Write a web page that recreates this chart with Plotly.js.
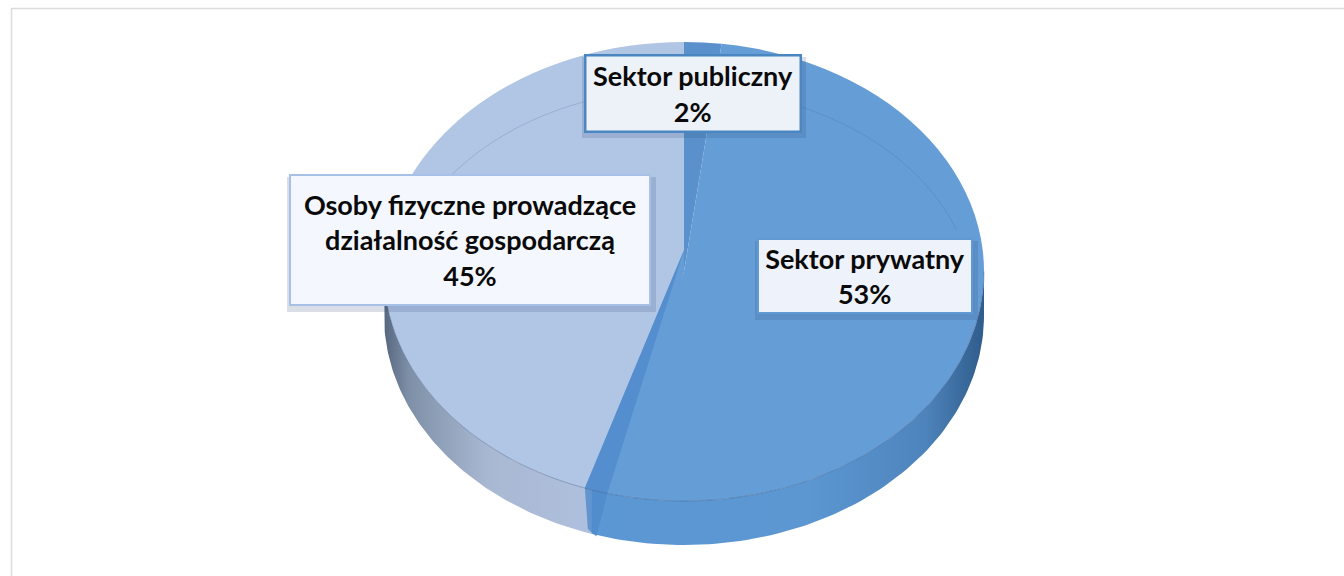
<!DOCTYPE html>
<html><head><meta charset="utf-8">
<script src="https://cdn.plot.ly/plotly-3.0.1.min.js"></script>
<style>html,body{margin:0;padding:0;background:#fff}#c{width:1344px;height:576px}</style></head>
<body><div id="c"></div>
<script>
const categories = ["Sektor publiczny", "Sektor prywatny", "Osoby fizyczne prowadzące<br>działalność gospodarczą"];
const shares = [2, 53, 45];
const faceColors = ["#5A90CB", "#659DD6", "#B1C5E4"];
const wallShades = [
  null,
  [[0, "#5B97D3"], [0.55, "#5C97D2"], [0.85, "#4E84BC"], [1, "#2F5C8B"]],
  [[0, "#55667E"], [0.12, "#7E90A8"], [0.5, "#A9B8D2"], [1, "#AEC0DE"]]
];
const labelBoxes = [
  {x0:584,x1:801,y0:54,y1:132,fill:"#EDF1F8",line:"#4A86C2",w:2.5},
  {x0:757,x1:973,y0:238,y1:314,fill:"#EEF2FA",line:"#5F9AD5",w:2},
  {x0:289,x1:651,y0:174,y1:306,fill:"#F4F7FD",line:"#A6C0E6",w:2}
];

const W=1344,H=576,cx=684,cy=271.5,rx=300,ry=229.5,depth=44,apexY=250;
const rad=d=>d*Math.PI/180;
const px=d=>cx+rx*Math.sin(rad(d)), py=d=>cy-ry*Math.cos(rad(d));
const total=shares.reduce((a,b)=>a+b,0);
let run=0; const bounds=shares.map(s=>{const a=run;run+=s/total*360;return [a,run];});
const range=(a,b,n=90)=>Array.from({length:n+1},(_,i)=>a+(b-a)*i/n);

// side wall: only the front half (90..270 degrees) is visible
const traces=[];
bounds.forEach(([a,b],i)=>{
  const s=Math.max(a,90), e=Math.min(b,270);
  if(e<=s||!wallShades[i]) return;
  const t=range(s,e);
  const xs=t.map(px).concat(t.slice().reverse().map(px));
  const ys=t.map(py).concat(t.slice().reverse().map(d=>py(d)+depth));
  traces.push({type:"scatter",mode:"lines",x:xs,y:ys,fill:"toself",line:{width:0},
    fillcolor:faceColors[i],
    fillgradient:{type:"horizontal",colorscale:wallShades[i]},hoverinfo:"skip",showlegend:false});
});
traces.push({type:"pie",labels:categories,values:shares,sort:false,direction:"clockwise",rotation:0,
  marker:{colors:faceColors,line:{width:0}},textinfo:"none",hoverinfo:"skip",showlegend:false,
  domain:{x:[(cx-rx)/W,(cx+rx)/W],y:[1-(cy+ry)/H,1-(cy-ry)/H]}});

const arcPath=(a,b,off=0,n=80)=>range(a,b,n).map((d,i)=>(i?"L":"M")+px(d).toFixed(1)+","+(py(d)+off).toFixed(1)).join(" ");
const bevelPath=range(-54,70,60).map((d,i)=>(i?"L":"M")+(cx+290*Math.sin(rad(d))).toFixed(1)+","+(303.6-215*Math.cos(rad(d))).toFixed(1)).join(" ");
const endPriv=bounds[1][1];
const bandL=endPriv+1.3, bandR=endPriv-3.2;
const shapes=[
  // faint bevel arc on the disc
  {type:"path",path:bevelPath,line:{color:"rgba(60,90,130,.2)",width:1},layer:"above"},
  // perspective-shifted apex of the boundary between the two big slices
  {type:"path",path:`M${cx},${apexY} L${cx},${cy} L${px(bandR)},${py(bandR)} L${px(bandL)},${py(bandL)} Z`,fillcolor:faceColors[1],line:{width:0},layer:"above"},
  {type:"path",path:`M${cx},${apexY} L${px(bandR)},${py(bandR)} L${px(bandL)},${py(bandL)} Z`,fillcolor:"#4F8ACB",opacity:.75,line:{width:0},layer:"above"},
  {type:"path",path:`M${px(bandL)},${py(bandL)} L${px(bandR)},${py(bandR)} L${px(bandR)-11},${py(bandR)+depth-1} L${px(bandL)+3},${py(bandL)+depth-3} Z`,fillcolor:"#4F8ACB",opacity:.8,line:{width:0},layer:"above"},
  // seam between face and wall
  {type:"path",path:arcPath(90,270),line:{color:"rgba(60,90,130,.4)",width:1},layer:"above"},
  // frame
  {type:"line",x0:11,x1:W,y0:8.5,y1:8.5,line:{color:"#DCDCDC",width:1.5},layer:"above"},
  {type:"line",x0:11.5,x1:11.5,y0:8,y1:H,line:{color:"#DCDCDC",width:1.5},layer:"above"}
];
labelBoxes.forEach(b=>shapes.push({type:"rect",x0:b.x0-2,x1:b.x1+5,y0:b.y0+3,y1:b.y1+6,fillcolor:"rgba(50,80,120,.18)",line:{width:0},layer:"above"}));

const annotations=categories.map((c,i)=>{const b=labelBoxes[i];return {
  x:(b.x0+b.x1)/2,y:(b.y0+b.y1)/2,xref:"x",yref:"y",xanchor:"center",yanchor:"middle",showarrow:false,
  text:"<b>"+c+"<br>"+shares[i]+"%</b>",align:"center",
  width:b.x1-b.x0-4,height:b.y1-b.y0-4,valign:"middle",
  font:{family:"Lato, Carlito, sans-serif",size:27,color:"#0A0A0A"},
  bgcolor:b.fill,bordercolor:b.line,borderwidth:b.w,borderpad:0};});

Plotly.newPlot("c",traces,{
  width:W,height:H,margin:{l:0,r:0,t:0,b:0},paper_bgcolor:"#fff",plot_bgcolor:"#fff",showlegend:false,
  xaxis:{range:[0,W],visible:false,fixedrange:true},
  yaxis:{range:[H,0],visible:false,fixedrange:true},
  shapes,annotations
},{staticPlot:true,displayModeBar:false}).then(gd=>{
  // Pie traces are circular: stretch the layer horizontally into the tilted disc
  const k=rx/ry;
  gd.querySelector(".pielayer").setAttribute("transform",`matrix(${k},0,0,1,${cx*(1-k)},0)`);
});
</script></body></html>
